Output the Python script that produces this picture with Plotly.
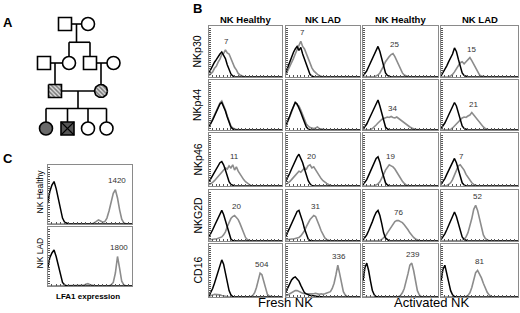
import numpy as np
import plotly.graph_objects as go

W, H = 520, 313
FONT = "Liberation Sans, Arial, sans-serif"
NARROW = "Liberation Sans Narrow, Arial Narrow, Liberation Sans, sans-serif"

# ---------------- data ----------------
markers = ["NKp30", "NKp44", "NKp46", "NKG2D", "CD16"]
groups = ["NK Healthy", "NK LAD", "NK Healthy", "NK LAD"]
conditions = ["Fresh NK", "Activated NK"]
channel = list(range(0, 1001, 25))  # relative fluorescence channel (log scale)

mfi_labels = [["7", "7", "25", "15"],
              ["", "", "34", "21"],
              ["11", "20", "19", "7"],
              ["20", "31", "76", "52"],
              ["504", "336", "239", "81"]]

# isotype control (black) and marker staining (grey) counts, per column
nkp30_iso = [[8, 16, 21, 29, 34, 41, 45, 49, 41, 36, 24, 14, 6, 2],
             [10, 20, 30, 40, 48, 55, 60, 52, 58, 45, 35, 22, 12, 5, 2],
             [2, 6, 12, 20, 28, 36, 45, 55, 60, 50, 35, 20, 8, 3, 1],
             [2, 8, 15, 22, 30, 38, 45, 57, 50, 35, 20, 8, 3, 1]]
nkp30_stain = [[3, 7, 10, 17, 21, 29, 35, 44, 46, 53, 47, 45, 35, 29, 19, 14, 7, 4, 2, 1],
               [5, 12, 20, 28, 36, 45, 55, 62, 70, 60, 55, 45, 35, 25, 18, 12, 8, 5, 3, 1],
               [0, 0, 0, 0, 0, 0, 1, 2, 4, 8, 14, 22, 30, 36, 40, 44, 46, 40, 32, 22, 14, 8, 4, 2, 1],
               [0, 0, 0, 0, 0, 2, 5, 10, 16, 22, 28, 30, 26, 30, 35, 38, 32, 25, 16, 9, 4, 2, 1]]
nkp44_iso = [[6, 12, 20, 28, 36, 44, 52, 55, 48, 38, 26, 15, 6, 2],
             [10, 18, 28, 38, 48, 55, 52, 45, 35, 25, 14, 6, 2],
             [2, 6, 12, 20, 28, 36, 46, 55, 60, 48, 32, 16, 6, 2],
             [3, 8, 14, 22, 30, 38, 46, 55, 48, 34, 18, 8, 3, 1]]
nkp44_stain = [[8, 14, 22, 30, 38, 46, 54, 58, 50, 40, 28, 16, 8, 4, 2, 1, 1],
               [8, 16, 26, 36, 46, 56, 50, 48, 40, 30, 20, 12, 8, 5, 4, 3, 4, 6, 3, 2, 1],
               [0, 0, 0, 0, 1, 3, 6, 10, 14, 18, 21, 23, 24, 26, 25, 27, 25, 24, 26, 23, 21, 18, 15, 12, 9, 6, 4, 2, 1, 1],
               [0, 0, 0, 0, 0, 1, 4, 8, 13, 18, 22, 24, 26, 25, 28, 30, 35, 30, 26, 20, 14, 10, 6, 3, 1]]
nkp46_iso = [[8, 14, 20, 26, 32, 38, 44, 46, 40, 30, 18, 8, 3, 1],
             [10, 16, 24, 32, 40, 48, 55, 60, 52, 44, 32, 20, 10, 4, 1],
             [2, 6, 12, 20, 28, 36, 44, 52, 55, 45, 30, 15, 6, 2],
             [3, 8, 14, 22, 30, 38, 46, 52, 44, 30, 16, 6, 2]]
nkp46_stain = [[2, 4, 7, 10, 14, 18, 22, 26, 30, 34, 32, 38, 34, 40, 30, 36, 28, 22, 16, 12, 8, 5, 3, 1],
               [3, 5, 8, 12, 16, 20, 24, 28, 26, 30, 34, 32, 38, 40, 34, 36, 30, 24, 18, 14, 10, 7, 5, 3, 1],
               [0, 0, 0, 0, 0, 0, 0, 2, 4, 8, 14, 22, 30, 36, 40, 38, 36, 32, 26, 20, 14, 9, 5, 2, 1],
               [0, 0, 0, 1, 3, 6, 12, 20, 30, 38, 40, 36, 30, 22, 16, 10, 6, 3, 1]]
nkg2d_iso = [[8, 14, 22, 30, 38, 46, 54, 60, 52, 40, 26, 12, 4, 1],
             [10, 18, 26, 34, 42, 50, 58, 60, 50, 38, 24, 12, 4, 1],
             [2, 6, 12, 20, 28, 38, 48, 56, 60, 50, 34, 16, 6, 2],
             [3, 8, 14, 22, 30, 38, 46, 57, 48, 34, 18, 8, 3, 1]]
nkg2d_stain = [[2, 3, 3, 4, 4, 5, 6, 8, 12, 18, 28, 38, 44, 48, 50, 46, 42, 34, 24, 14, 7, 3, 1],
               [2, 3, 3, 4, 4, 5, 6, 7, 10, 14, 20, 28, 36, 42, 46, 50, 48, 40, 30, 20, 12, 6, 3, 1],
               [0, 0, 0, 0, 0, 0, 0, 0, 0, 1, 3, 6, 10, 16, 22, 28, 34, 38, 40, 40, 38, 36, 32, 28, 22, 16, 11, 7, 4, 2, 1],
               [0, 0, 0, 0, 0, 0, 0, 0, 0, 0, 0, 1, 3, 8, 16, 28, 44, 62, 70, 60, 44, 26, 12, 5, 2, 1]]
cd16_iso = [[2, 8, 16, 26, 36, 48, 60, 70, 62, 46, 28, 12, 4, 1],
            [10, 18, 26, 32, 36, 38, 34, 30, 22, 14, 8, 6, 4, 3, 3, 2, 2, 1, 1],
            [30, 55, 64, 50, 30, 12, 4, 1],
            [30, 52, 60, 46, 28, 12, 4, 1]]
cd16_stain = [[1, 3, 4, 5, 5, 4, 4, 3, 2, 1, 1, 0, 0, 0, 0, 0, 0, 0, 0, 0, 0, 0, 0, 1, 3, 8, 18, 32, 45, 42, 28, 14, 5, 2, 1],
              [2, 4, 6, 8, 10, 12, 12, 10, 8, 7, 6, 6, 5, 6, 5, 6, 7, 6, 5, 6, 5, 6, 7, 8, 10, 16, 26, 42, 60, 44, 24, 10, 4, 1],
              [0, 0, 0, 0, 0, 0, 0, 0, 0, 0, 0, 0, 0, 0, 0, 0, 0, 0, 0, 1, 3, 8, 16, 28, 44, 60, 64, 50, 30, 12, 4, 1],
              [0, 0, 0, 0, 0, 0, 0, 0, 0, 0, 0, 0, 0, 1, 3, 8, 18, 32, 46, 50, 44, 36, 26, 16, 9, 4, 1]]

lfa1_groups = ["NK Healthy", "NK LAD"]
lfa1_mfi = ["1420", "1800"]
lfa1_iso = [[35, 55, 66, 72, 60, 44, 24, 10, 3, 1],
            [30, 48, 56, 61, 50, 36, 18, 6, 2]]
lfa1_stain = [[0] * 22 + [2, 5, 7, 5, 3, 4, 10, 22, 38, 52, 58, 44, 24, 8, 2],
              [0] * 17 + [1, 3, 4, 2, 1, 0, 0, 0, 0, 0, 0, 0, 0, 2, 6, 22, 50, 30, 8, 2]]

# pedigree: generation, sex, status (U unaffected, C carrier, A affected)
ped_gen = [1, 1, 2, 2, 2, 2, 3, 3, 4, 4, 4, 4]
ped_sex = ["M", "F", "M", "F", "M", "F", "M", "F", "F", "M", "F", "F"]
ped_status = ["U", "U", "U", "U", "U", "U", "C", "C", "A", "A", "U", "U"]
ped_couples = [(0, 1), (2, 3), (4, 5), (6, 7)]
ped_children = [[3, 4], [6], [7], [8, 9, 10, 11]]

# ---------------- layout helpers ----------------
ped_x = [65, 88, 44, 69, 90, 113.5, 55, 101, 46, 67.5, 88, 106.5]
gen_y = {1: 24, 2: 63, 3: 91, 4: 128.5}
R = 6.5

fig = go.Figure()
layout = dict(width=W, height=H, margin=dict(l=0, r=0, t=0, b=0),
              paper_bgcolor="white", plot_bgcolor="white", showlegend=False,
              hovermode=False,
              font=dict(family=FONT, size=9, color="black"))
annotations, shapes = [], []
counter = [0]


def new_axes(x0, x1, y0, y1, xr, yr, visible=True):
    counter[0] += 1
    k = counter[0]
    sfx = "" if k == 1 else str(k)
    common = dict(showgrid=False, zeroline=False, showticklabels=False,
                  showline=True, mirror=True, linecolor="#8a8a8a", linewidth=1,
                  ticks="inside", ticklen=2, tickcolor="#555", tickwidth=1,
                  fixedrange=True, visible=visible)
    layout["xaxis" + sfx] = dict(common, domain=[x0 / W, x1 / W], range=xr,
                                 anchor="y" + sfx, dtick=50)
    layout["yaxis" + sfx] = dict(common, domain=[1 - y1 / H, 1 - y0 / H], range=yr,
                                 anchor="x" + sfx, dtick=4)
    return "x" + sfx, "y" + sfx


def pad(v):
    return list(v) + [0] * (len(channel) - len(v))


def histogram(xa, ya, iso, stain, label, iso_dash="solid"):
    fig.add_trace(go.Scatter(x=channel, y=pad(stain), xaxis=xa, yaxis=ya, mode="lines",
                             line=dict(color="#8c8c8c", width=1.6), hoverinfo="skip"))
    fig.add_trace(go.Scatter(x=channel, y=pad(iso), xaxis=xa, yaxis=ya, mode="lines",
                             line=dict(color="black", width=1.5, dash=iso_dash), hoverinfo="skip"))
    if label:
        s = pad(stain)
        i = int(np.argmax(s))
        annotations.append(dict(x=channel[i] + 20, y=min(s[i] + 4, 82), xref=xa, yref=ya,
                                text=label, showarrow=False, xanchor="center", yanchor="bottom",
                                font=dict(size=8, color="#333")))


def tx(text, px, py, size=9, bold=False, angle=0, family=FONT, color="black"):
    annotations.append(dict(x=px / W, y=1 - py / H, xref="paper", yref="paper",
                            text=f"<b>{text}</b>" if bold else text, showarrow=False,
                            xanchor="center", yanchor="middle", textangle=angle,
                            font=dict(size=size, family=family, color=color)))


# ---------------- panel B ----------------
col_px = [(209, 282), (286, 360), (363, 438), (441, 518)]
row_px = [(26, 77), (80, 130), (133, 186), (190, 241), (244, 297)]
iso_rows = [nkp30_iso, nkp44_iso, nkp46_iso, nkg2d_iso, cd16_iso]
stain_rows = [nkp30_stain, nkp44_stain, nkp46_stain, nkg2d_stain, cd16_stain]

for r, (y0, y1) in enumerate(row_px):
    for c, (x0, x1) in enumerate(col_px):
        xa, ya = new_axes(x0, x1, y0, y1, [0, 1000], [0, 100])
        histogram(xa, ya, iso_rows[r][c], stain_rows[r][c], mfi_labels[r][c])
    tx(markers[r], 197, (y0 + y1) / 2, size=10.5, angle=-90, family=NARROW)

for c, (x0, x1) in enumerate(col_px):
    tx(groups[c], (x0 + x1) / 2, 19, size=9.5, bold=True)
tx(conditions[0], 285, 302, size=13)
tx(conditions[1], 431, 302, size=13)
tx("B", 197, 8, size=13, bold=True)

# ---------------- panel C ----------------
c_rows = [(165, 224), (227, 286)]
for i, (y0, y1) in enumerate(c_rows):
    xa, ya = new_axes(47.7, 132.3, y0, y1, [0, 1000], [0, 100])
    histogram(xa, ya, lfa1_iso[i], lfa1_stain[i], lfa1_mfi[i], iso_dash="solid")
    tx(lfa1_groups[i], 39, (y0 + y1) / 2 - 3, size=8.5, angle=-90, family=NARROW)
tx("LFA1 expression", 88, 296, size=8, bold=True)
tx("C", 7.5, 158, size=13, bold=True)

# ---------------- panel A : pedigree ----------------
pxa, pya = new_axes(0, 130, 0, 145, [0, 130], [145, 0], visible=False)
LW = 1.6
for a, b in ped_couples:
    xa_, xb_ = sorted([ped_x[a], ped_x[b]])
    y = gen_y[ped_gen[a]]
    shapes.append(dict(type="line", xref=pxa, yref=pya, x0=xa_ + R, x1=xb_ - R, y0=y, y1=y,
                       line=dict(color="black", width=LW)))
for (a, b), kids in zip(ped_couples, ped_children):
    y = gen_y[ped_gen[a]]
    cy = gen_y[ped_gen[kids[0]]] - R
    if len(kids) == 1:
        xk = ped_x[kids[0]]
        shapes.append(dict(type="line", xref=pxa, yref=pya, x0=xk, x1=xk, y0=y, y1=cy,
                           line=dict(color="black", width=LW)))
    else:
        xm = (ped_x[a] + ped_x[b]) / 2
        sy = (y + cy) / 2 + 2
        xs = [ped_x[k] for k in kids]
        shapes.append(dict(type="line", xref=pxa, yref=pya, x0=xm, x1=xm, y0=y, y1=sy,
                           line=dict(color="black", width=LW)))
        shapes.append(dict(type="line", xref=pxa, yref=pya, x0=min(xs), x1=max(xs), y0=sy, y1=sy,
                           line=dict(color="black", width=LW)))
        for xk in xs:
            shapes.append(dict(type="line", xref=pxa, yref=pya, x0=xk, x1=xk, y0=sy, y1=cy,
                               line=dict(color="black", width=LW)))

theta = np.linspace(0, 2 * np.pi, 60)
for i, (g, s, st) in enumerate(zip(ped_gen, ped_sex, ped_status)):
    x, y = ped_x[i], gen_y[g]
    if st == "C":
        if s == "M":
            px_ = [x - R, x + R, x + R, x - R, x - R]
            py_ = [y - R, y - R, y + R, y + R, y - R]
        else:
            px_ = list(x + R * np.cos(theta))
            py_ = list(y + R * np.sin(theta))
        fig.add_trace(go.Scatter(x=px_, y=py_, xaxis=pxa, yaxis=pya, mode="lines", fill="toself",
                                 fillcolor="white",
                                 fillpattern=dict(shape="\\", size=3, solidity=0.5,
                                                  fgcolor="#111", bgcolor="#dcdcdc"),
                                 line=dict(color="black", width=LW), hoverinfo="skip"))
        continue
    fill = "white"
    if st == "A":
        fill = "#6a6a6a" if s == "F" else "#555555"
    shapes.append(dict(type="rect" if s == "M" else "circle", xref=pxa, yref=pya,
                       x0=x - R, x1=x + R, y0=y - R, y1=y + R, fillcolor=fill,
                       line=dict(color="black", width=LW)))
    if st == "A" and s == "M":
        for d in (1, -1):
            shapes.append(dict(type="line", xref=pxa, yref=pya, x0=x - R, x1=x + R,
                               y0=y - d * R, y1=y + d * R, line=dict(color="black", width=1.1)))
tx("A", 7.5, 22, size=13, bold=True)

layout["annotations"] = annotations
layout["shapes"] = shapes
fig.update_layout(**layout)
fig.write_html("out.html", config={"displayModeBar": False, "staticPlot": True},
               post_script="document.body.style.margin='0';document.body.style.overflow='hidden';")
